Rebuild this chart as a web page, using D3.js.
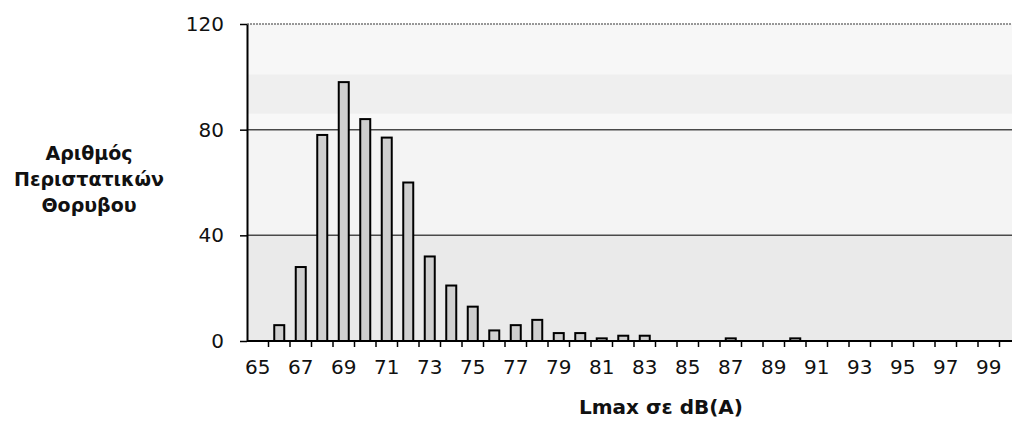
<!DOCTYPE html>
<html>
<head>
<meta charset="utf-8">
<script src="https://cdn.jsdelivr.net/npm/d3@7"></script>
<style>
  body { margin: 0; background: #fff; }
  text { font-family: "DejaVu Sans", Verdana, sans-serif; }
</style>
</head>
<body>
<div id="chart"></div>
<script>
// dataset
const levels = d3.range(65, 101);   // Lmax in dB(A), 65 .. 100
const counts = [0, 6, 28, 78, 98, 84, 77, 60, 32, 21, 13, 4, 6, 8, 3, 3, 1, 2, 2, 0,
                0, 0, 1, 0, 0, 1, 0, 0, 0, 0, 0, 0, 0, 0, 0, 0];
const yTicks = [0, 40, 80, 120];
const xLabels = levels.filter(d => d % 2 === 1);
const yTitle = ["Αριθμός", "Περιστατικών", "Θορυβου"];
const xTitle = "Lmax σε dB(A)";

const data = levels.map((l, i) => ({level: l, count: counts[i]}));

// CHART VARIABLES
const width = 1012;
const height = 426;
const margin = {top: 24, left: 247, bottom: 85};
const band = 21.5;

const svg = d3.select("#chart")
    .append("svg")
    .attr("width", width)
    .attr("height", height);

const x = d3.scaleBand()
    .domain(levels)
    .range([margin.left, margin.left + band * levels.length]);

const y = d3.scaleLinear()
    .domain([0, 120])
    .range([height - margin.bottom, margin.top]);

const plotRight = width;

// background shading of the plot area (scanned stipple)
const shades = [
  {lo: 0, hi: 40, fill: "#eaeaea"},
  {lo: 40, hi: 80, fill: "#f4f4f4"},
  {lo: 80, hi: 86, fill: "#f8f8f8"},
  {lo: 86, hi: 101, fill: "#efefef"},
  {lo: 101, hi: 120, fill: "#f7f7f7"}
];
svg.append("g")
  .selectAll("rect")
  .data(shades)
  .join("rect")
    .attr("x", margin.left)
    .attr("width", plotRight - margin.left)
    .attr("y", d => y(d.hi))
    .attr("height", d => y(d.lo) - y(d.hi))
    .attr("fill", d => d.fill);

// gridlines
svg.append("g")
  .selectAll("line")
  .data([40, 80])
  .join("line")
    .attr("x1", margin.left)
    .attr("x2", plotRight)
    .attr("y1", d => y(d))
    .attr("y2", d => y(d))
    .attr("stroke", "#4a4a4a")
    .attr("stroke-width", 1.5);

svg.append("line")
    .attr("x1", margin.left)
    .attr("x2", plotRight)
    .attr("y1", y(120))
    .attr("y2", y(120))
    .attr("stroke", "#777")
    .attr("stroke-width", 1.6)
    .attr("stroke-dasharray", "2,1");

// bars
svg.append("g")
  .selectAll("rect")
  .data(data.filter(d => d.count > 0))
  .join("rect")
    .attr("x", d => x(d.level) + x.bandwidth() / 2 - 5)
    .attr("width", 10)
    .attr("y", d => y(d.count))
    .attr("height", d => y(0) - y(d.count))
    .attr("fill", "#cfcfcf")
    .attr("stroke", "#000")
    .attr("stroke-width", 2);

// y axis
const yAxis = svg.append("g")
    .attr("transform", `translate(${margin.left},0)`)
    .call(d3.axisLeft(y).tickValues(yTicks).tickSize(7).tickPadding(16).tickSizeOuter(0));
yAxis.select(".domain").attr("stroke", "#000").attr("stroke-width", 2);
yAxis.selectAll(".tick line").attr("stroke", "#000").attr("stroke-width", 1.5);
yAxis.selectAll(".tick text")
    .attr("font-size", 20)
    .attr("fill", "#111")
    .style("font-family", "DejaVu Sans, Verdana, sans-serif");

// x axis: labels on odd levels, ticks between every category
const xAxis = svg.append("g")
    .attr("transform", `translate(0,${y(0)})`)
    .call(d3.axisBottom(x).tickValues(xLabels).tickSize(0).tickPadding(19));
xAxis.select(".domain").remove();
xAxis.selectAll(".tick text")
    .attr("font-size", 20)
    .attr("fill", "#111")
    .style("font-family", "DejaVu Sans, Verdana, sans-serif");

svg.append("line")
    .attr("x1", margin.left)
    .attr("x2", plotRight)
    .attr("y1", y(0))
    .attr("y2", y(0))
    .attr("stroke", "#000")
    .attr("stroke-width", 2);

svg.append("g")
  .selectAll("line")
  .data(levels.slice(1))
  .join("line")
    .attr("x1", d => x(d))
    .attr("x2", d => x(d))
    .attr("y1", y(0))
    .attr("y2", y(0) + 6)
    .attr("stroke", "#000")
    .attr("stroke-width", 1.5);

// axis titles
svg.append("text")
    .attr("text-anchor", "middle")
    .attr("font-size", 19)
    .attr("font-weight", "bold")
    .attr("fill", "#111")
  .selectAll("tspan")
  .data(yTitle)
  .join("tspan")
    .attr("x", 89)
    .attr("y", (d, i) => 160 + i * 26)
    .text(d => d);

svg.append("text")
    .attr("x", 661)
    .attr("y", 414)
    .attr("text-anchor", "middle")
    .attr("font-size", 20)
    .attr("font-weight", "bold")
    .attr("fill", "#111")
    .text(xTitle);
</script>
</body>
</html>
